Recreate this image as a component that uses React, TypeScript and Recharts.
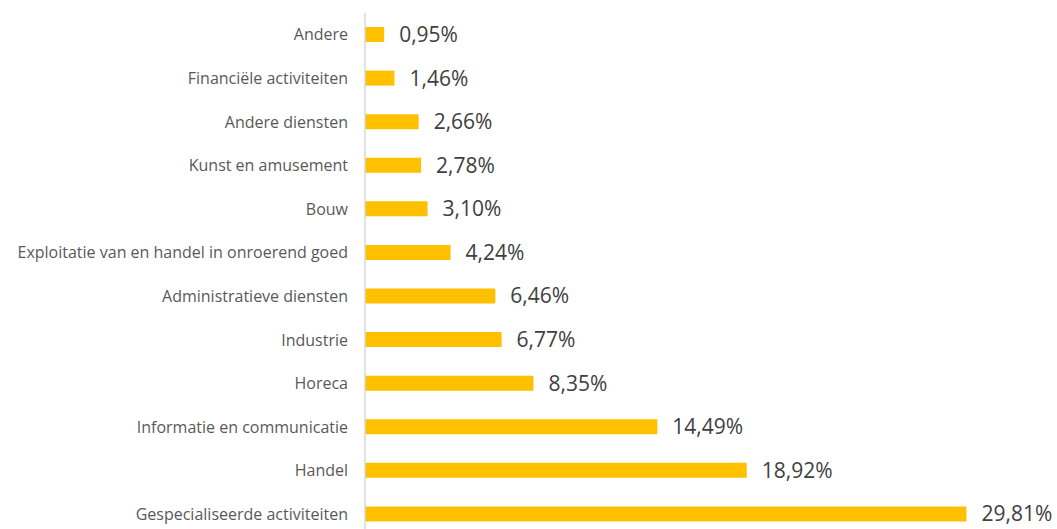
import { BarChart, Bar, XAxis, YAxis, LabelList } from 'recharts';

const categories = [
  'Andere',
  'Financiële activiteiten',
  'Andere diensten',
  'Kunst en amusement',
  'Bouw',
  'Exploitatie van en handel in onroerend goed',
  'Administratieve diensten',
  'Industrie',
  'Horeca',
  'Informatie en communicatie',
  'Handel',
  'Gespecialiseerde activiteiten',
];

const shares = [0.95, 1.46, 2.66, 2.78, 3.1, 4.24, 6.46, 6.77, 8.35, 14.49, 18.92, 29.81];

const data = categories.map((name, i) => ({ name, value: shares[i] }));

const fontFamily = '"Open Sans", Lato, sans-serif';

export default function App() {
  const formatLabel = (value: unknown) => `${Number(value).toFixed(2).replace('.', ',')}%`;

  return (
    <div style={{ position: 'absolute', left: 0, top: 0, fontFamily }}>
      <BarChart
        width={1057}
        height={540}
        data={data}
        layout="vertical"
        margin={{ top: 13, right: 6, bottom: 4, left: 0 }}
      >
        <XAxis type="number" domain={[0, 34]} hide />
        <YAxis
          type="category"
          dataKey="name"
          width={365}
          tickSize={0}
          tickMargin={17}
          tickLine={false}
          axisLine={{ stroke: '#D9D9D9', strokeWidth: 1.5 }}
          tick={{ fill: '#595959', fontSize: 16, fontFamily }}
          interval={0}
        />
        <Bar dataKey="value" fill="#FFC000" barSize={15} isAnimationActive={false}>
          <LabelList
            dataKey="value"
            position="right"
            offset={15}
            formatter={formatLabel}
            style={{ fill: '#404040', fontSize: 21, fontFamily }}
          />
        </Bar>
      </BarChart>
    </div>
  );
}
